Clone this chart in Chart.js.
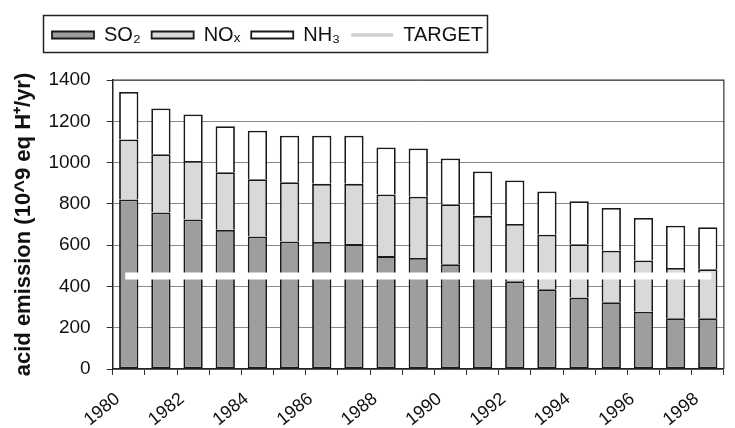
<!DOCTYPE html>
<html>
<head>
<meta charset="utf-8">
<script src="https://cdn.jsdelivr.net/npm/chart.js@4/dist/chart.umd.min.js"></script>
<style>
  html, body { margin: 0; padding: 0; background: #ffffff; }
  #wrap { width: 735px; height: 428px; }
</style>
</head>
<body>
<div id="wrap"><canvas id="c" width="735" height="428"></canvas></div>
<script>
// ---- data ----
const years = ['1980','1981','1982','1983','1984','1985','1986','1987','1988','1989',
               '1990','1991','1992','1993','1994','1995','1996','1997','1998'];
const so2 = [821, 758, 724, 674, 642, 618, 615, 605, 547, 538, 508, 455, 425, 386, 346, 323, 277, 246, 246];
const nox = [291, 282, 284, 279, 277, 287, 282, 292, 298, 297, 290, 287, 278, 264, 258, 250, 249, 243, 237];
const nh3 = [230, 222, 225, 223, 235, 225, 233, 233, 228, 233, 222, 215, 210, 210, 209, 207, 206, 205, 204];
const target = [450, 450, 450, 450, 450, 450, 450, 450, 450, 450, 450, 450, 450, 450, 450, 450, 450, 450, 450];
const seriesNames = ['SO\u2082', 'NO\u2093', 'NH\u2083', 'TARGET'];
const yTicks = [0, 200, 400, 600, 800, 1000, 1200, 1400];
const yTitle = 'acid emission (10^9 eq H\u207A/yr)';

const FONT = "'Liberation Sans', Arial, sans-serif";

const legendMargin = {
  id: 'legendMargin',
  beforeInit(chart) {
    const lg = chart.legend;
    if (!lg) return;
    const fit = lg.fit;
    lg.fit = function () { fit.call(this); this.height += 25; };
  }
};

const legendFrame = {
  id: 'legendFrame',
  beforeDraw(chart) {
    chart.legend.left = 41; // place legend items as in the reference
  },
  afterDraw(chart) {
    const ctx = chart.ctx;
    ctx.save();
    ctx.strokeStyle = '#222';
    ctx.lineWidth = 1.5;
    ctx.strokeRect(43.5, 15.5, 444, 37);
    ctx.restore();
  }
};

const plotFrame = {
  id: 'plotFrame',
  afterDatasetsDraw(chart) {
    const a = chart.chartArea, ctx = chart.ctx;
    ctx.save();
    ctx.strokeStyle = '#333';
    ctx.lineWidth = 1.2;
    ctx.beginPath();
    ctx.moveTo(a.left, a.top); ctx.lineTo(a.right, a.top); ctx.lineTo(a.right, a.bottom);
    ctx.stroke();
    ctx.restore();
  }
};

new Chart(document.getElementById('c'), {
  data: {
    labels: years,
    datasets: [
      { type: 'bar', label: seriesNames[0], data: so2, backgroundColor: '#9e9e9e', borderColor: '#1a1a1a', borderWidth: 1.8, borderSkipped: false, stack: 's', order: 1 },
      { type: 'bar', label: seriesNames[1], data: nox, backgroundColor: '#d9d9d9', borderColor: '#1a1a1a', borderWidth: 1.8, borderSkipped: 'start', stack: 's', order: 1 },
      { type: 'bar', label: seriesNames[2], data: nh3, backgroundColor: '#ffffff', borderColor: '#1a1a1a', borderWidth: 1.8, borderSkipped: 'start', stack: 's', order: 1 },
      { type: 'line', label: seriesNames[3], data: target, borderColor: '#ffffff', backgroundColor: '#ffffff', borderWidth: 7, pointRadius: 0, borderCapStyle: 'square', stack: 't', order: 0, fill: false }
    ]
  },
  options: {
    responsive: false,
    animation: false,
    devicePixelRatio: 1,
    layout: { padding: { top: 14, left: 8, right: 5, bottom: 0 } },
    datasets: { bar: { categoryPercentage: 1.0, barPercentage: 0.6 } },
    plugins: {
      tooltip: { enabled: false },
      legend: {
        position: 'top',
        align: 'start',
        labels: {
          font: { family: FONT, size: 20 },
          color: '#111',
          usePointStyle: true,
          pointStyleWidth: 42,
          boxHeight: 7,
          padding: 11,
          sort: (a, b) => a.datasetIndex - b.datasetIndex,
          generateLabels(chart) {
            const items = Chart.defaults.plugins.legend.labels.generateLabels(chart);
            items.forEach(it => {
              if (it.datasetIndex === 3) {
                it.pointStyle = 'line';
                it.strokeStyle = '#d0d0d0';
                it.lineWidth = 3.5;
              } else {
                it.pointStyle = 'rect';
                it.lineWidth = 1.8;
              }
            });
            return items;
          }
        }
      }
    },
    scales: {
      x: {
        stacked: true,
        offset: true,
        afterFit(scale) { scale.height = 59; },
        grid: { display: true, drawOnChartArea: false, offset: true, color: '#333', tickLength: 6, lineWidth: 1 },
        border: { color: '#222', width: 1.5 },
        ticks: {
          autoSkip: false,
          maxRotation: 39, minRotation: 39,
          padding: 13.5,
          labelOffset: -11,
          color: '#111',
          font: { family: FONT, size: 18 },
          callback(v, i) { return i % 2 === 0 ? years[i] : ''; }
        }
      },
      y: {
        stacked: true,
        min: 0, max: 1400,
        afterBuildTicks(scale) { scale.ticks = yTicks.map(v => ({ value: v })); },
        grid: { color: '#8a8a8a', lineWidth: 1, tickLength: 6, tickColor: '#333' },
        border: { color: '#222', width: 1.5 },
        ticks: { color: '#111', padding: 16, font: { family: FONT, size: 19 }, callback: v => String(v) },
        title: {
          display: true,
          text: yTitle,
          color: '#111',
          font: { family: FONT, size: 22, weight: 'bold' },
          padding: { top: 3, bottom: -5 }
        }
      }
    }
  },
  plugins: [legendMargin, legendFrame, plotFrame]
});
</script>
</body>
</html>
